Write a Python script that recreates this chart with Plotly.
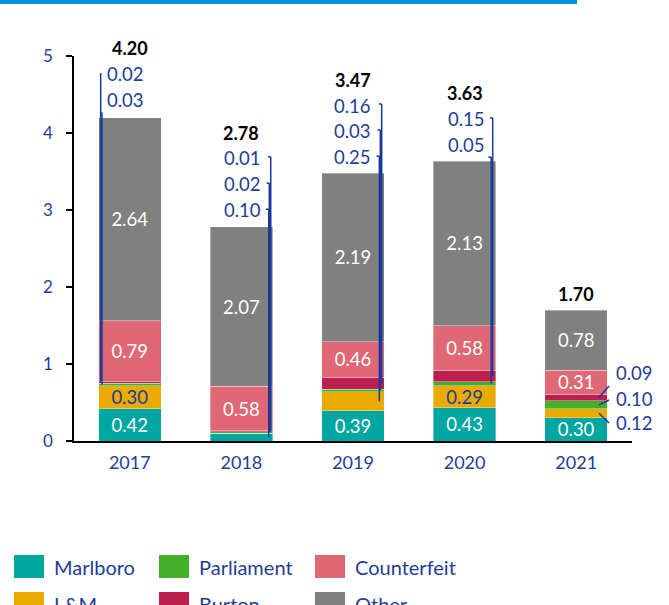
import plotly.graph_objects as go

# ---------------- data ----------------
years = ["2017", "2018", "2019", "2020", "2021"]
series_names = ["Marlboro", "L&M", "Parliament", "Burton", "Counterfeit", "Other"]
marlboro = [0.42, 0.10, 0.39, 0.43, 0.30]
lm = [0.30, 0.00, 0.25, 0.29, 0.12]
parliament = [0.03, 0.02, 0.03, 0.05, 0.10]
burton = [0.02, 0.01, 0.16, 0.15, 0.09]
counterfeit = [0.79, 0.58, 0.46, 0.58, 0.31]
other = [2.64, 2.07, 2.19, 2.13, 0.78]
totals = [4.20, 2.78, 3.47, 3.63, 1.70]
y_ticks = [0, 1, 2, 3, 4, 5]

# ---------------- style ----------------
W, H = 669, 605
ML, MR, MT, MB = 74, 37, 56, 164
FONT = "Lato"
BLUE_TXT = "#1F3C97"
LINE_BLUE = "#1A3A9A"
colors = ["#00A6A0", "#EAAA00", "#43B02A", "#BE1E4D", "#E06774", "#808080"]
inside_color = ["white", BLUE_TXT, "white", "white", "white", "white"]
# which values are labelled inside the bar
inside_flags = [
    [1, 0, 1, 1, 1],
    [1, 0, 0, 1, 0],
    [0, 0, 0, 0, 0],
    [0, 0, 0, 0, 0],
    [1, 1, 1, 1, 1],
    [1, 1, 1, 1, 1],
]
# pixel lift of total labels above bar top
total_lift = [70, 94, 94, 68, 16]

values = [marlboro, lm, parliament, burton, counterfeit, other]
x = list(range(len(years)))

fig = go.Figure()
for s, name in enumerate(series_names):
    txt = [f"{v:.2f}" if inside_flags[s][i] else "" for i, v in enumerate(values[s])]
    fig.add_trace(go.Bar(
        x=x, y=values[s], name=name, width=0.56,
        marker=dict(color=colors[s], line=dict(color="rgba(255,255,255,0.45)", width=0.8)),
        text=txt, textposition="inside", insidetextanchor="middle", textangle=0,
        constraintext="none",
        textfont=dict(family=FONT, size=18.5, color=inside_color[s]),
        hoverinfo="skip", showlegend=False,
    ))

# cumulative segment midpoints
def seg_mid(s, i):
    base = sum(values[k][i] for k in range(s))
    return base + values[s][i] / 2

annotations = []
shapes = []

# totals
for i, t in enumerate(totals):
    annotations.append(dict(x=i, y=t, xref="x", yref="y", text=f"<b>{t:.2f}</b>",
                            showarrow=False, yanchor="bottom", yshift=total_lift[i] - 13,
                            font=dict(family=FONT, size=18, color="black")))

# outside labels: (series index, year index, text x, text y, xanchor, line x bottom, line x top, line y top)
outside = [
    (3, 0, -0.225, 4.77, "left", -0.261, -0.261, 4.78),
    (2, 0, -0.225, 4.43, "left", -0.249, -0.249, 4.27),
    (3, 1, 1.19, 3.675, "right", 1.263, 1.263, 3.69),
    (2, 1, 1.19, 3.34, "right", 1.250, 1.250, 3.35),
    (0, 1, 1.19, 3.00, "right", 1.245, 1.245, 3.01),
    (3, 2, 2.175, 4.35, "right", 2.257, 2.257, 4.377),
    (2, 2, 2.175, 4.026, "right", 2.245, 2.245, 4.04),
    (1, 2, 2.175, 3.688, "right", 2.236, 2.236, 3.70),
    (3, 3, 3.205, 4.18, "right", 3.252, 3.252, 4.195),
    (2, 3, 3.205, 3.844, "right", 3.238, 3.238, 3.688),
    (3, 4, 4.335, 0.883, "left", 4.204, 4.294, 0.714),
    (2, 4, 4.335, 0.545, "left", 4.204, 4.294, 0.532),
    (1, 4, 4.335, 0.234, "left", 4.204, 4.294, 0.234),
]
for s, i, tx, ty, anc, lx0, lx1, ly1 in outside:
    annotations.append(dict(x=tx, y=ty, xref="x", yref="y", text=f"{values[s][i]:.2f}",
                            showarrow=False, xanchor=anc, yanchor="middle",
                            font=dict(family=FONT, size=18.5, color=BLUE_TXT)))
    shapes.append(dict(type="line", xref="x", yref="y", x0=lx0, y0=seg_mid(s, i), x1=lx1, y1=ly1,
                       line=dict(color=LINE_BLUE, width=1.5)))
    if anc == "right":
        shapes.append(dict(type="line", xref="x", yref="y", x0=lx1 - 0.025, y0=ly1, x1=lx1, y1=ly1,
                           line=dict(color=LINE_BLUE, width=1.5)))

# pixel -> paper helpers
PW = W - ML - MR
PH = H - MT - MB
def px(xp):
    return (xp - ML) / PW
def py(yp):
    return (H - MB - yp) / PH

# header band
shapes.append(dict(type="rect", xref="paper", yref="paper", x0=px(0), x1=px(577), y0=py(4), y1=py(-1),
                   fillcolor="#0091DA", line=dict(width=0), layer="above"))

# custom legend
legend_cols = [(14, 52), (159, 197), (315, 353)]
legend_rows = [555, 592]
for s, name in enumerate(series_names):
    col, row = divmod(s, 2)
    sx, tx = legend_cols[col]
    ry = legend_rows[row]
    shapes.append(dict(type="rect", xref="paper", yref="paper", x0=px(sx), x1=px(sx + 30),
                       y0=py(ry + 23), y1=py(ry), fillcolor=colors[s], line=dict(width=0)))
    annotations.append(dict(x=px(tx), y=py(ry + 12), xref="paper", yref="paper", text=name,
                            showarrow=False, xanchor="left", yanchor="middle",
                            font=dict(family=FONT, size=20, color=BLUE_TXT)))

fig.update_layout(
    width=W, height=H, margin=dict(l=ML, r=MR, t=MT, b=MB, pad=0),
    barmode="stack", plot_bgcolor="white", paper_bgcolor="white",
    font=dict(family=FONT, color=BLUE_TXT),
    shapes=shapes, annotations=annotations, showlegend=False,
    xaxis=dict(range=[-0.5, 4.5], tickvals=x, ticktext=years, showline=True, linecolor="black",
               linewidth=1.5, ticks="", showgrid=False, zeroline=False, ticklabelstandoff=5,
               tickfont=dict(family=FONT, size=18, color=BLUE_TXT), fixedrange=True),
    yaxis=dict(range=[0, 5], tickvals=y_ticks, showline=True, linecolor="black", linewidth=1.5,
               ticks="outside", ticklen=6, tickcolor="black", tickwidth=1.5, showgrid=False,
               zeroline=False, ticklabelstandoff=10,
               tickfont=dict(family=FONT, size=17, color=BLUE_TXT), fixedrange=True),
)

fig.write_html("out.html", config={"displayModeBar": False},
               post_script="document.body.style.margin='0';document.body.style.overflow='hidden';")
